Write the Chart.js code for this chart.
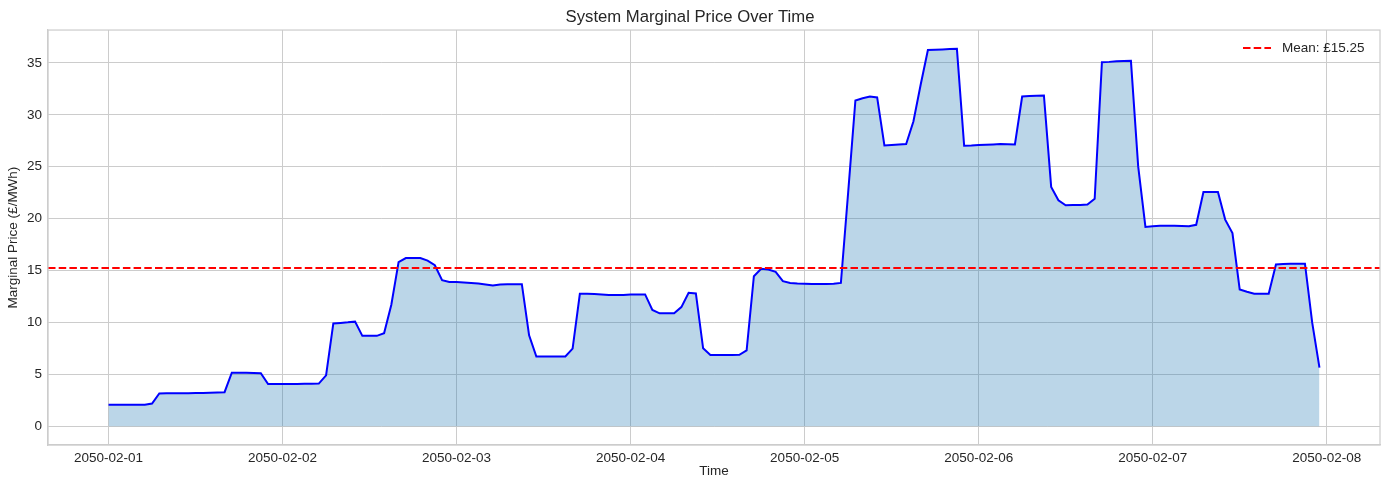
<!DOCTYPE html>
<html>
<head>
<meta charset="utf-8">
<title>System Marginal Price Over Time</title>
<script src="https://cdn.jsdelivr.net/npm/chart.js@4.4.1/dist/chart.umd.min.js"></script>
<style>
  html, body { margin: 0; padding: 0; background: #fff; }
  #wrap { width: 1390px; height: 490px; }
</style>
</head>
<body>
<div id="wrap"><canvas id="priceChart" width="1390" height="490"></canvas></div>
<script>
// hourly system marginal price, one row per day (2050-02-01 .. 2050-02-07)
const startDate = Date.UTC(2050, 1, 1);
const prices = [
    2.05, 2.05, 2.05, 2.05, 2.05, 2.07, 2.18, 3.15, 3.16, 3.17, 3.17, 3.18, 3.19, 3.2, 3.22, 3.24, 3.27, 5.15, 5.15, 5.15, 5.13, 5.1, 4.05, 4.05,
    4.05, 4.06, 4.07, 4.08, 4.09, 4.1, 4.9, 9.9, 9.95, 10.0, 10.07, 8.7, 8.7, 8.7, 8.95, 11.7, 15.8, 16.2, 16.2, 16.2, 15.95, 15.5, 14.07, 13.9,
    13.88, 13.85, 13.8, 13.75, 13.65, 13.56, 13.65, 13.67, 13.68, 13.68, 8.75, 6.7, 6.7, 6.7, 6.7, 6.72, 7.47, 12.75, 12.75, 12.73, 12.68, 12.63, 12.63, 12.63,
    12.69, 12.69, 12.69, 11.2, 10.87, 10.87, 10.87, 11.47, 12.85, 12.79, 7.5, 6.86, 6.86, 6.86, 6.86, 6.88, 7.3, 14.45, 15.16, 15.1, 14.87, 13.97, 13.8, 13.75,
    13.72, 13.7, 13.7, 13.7, 13.72, 13.8, 22.5, 31.38, 31.6, 31.76, 31.67, 27.05, 27.1, 27.15, 27.18, 29.36, 32.9, 36.25, 36.28, 36.3, 36.33, 36.35, 27.02, 27.05,
    27.1, 27.12, 27.15, 27.18, 27.16, 27.15, 31.76, 31.8, 31.83, 31.86, 23.05, 21.76, 21.28, 21.3, 21.32, 21.35, 21.9, 35.07, 35.1, 35.15, 35.18, 35.2, 25.03, 19.2,
    19.25, 19.3, 19.3, 19.3, 19.28, 19.26, 19.4, 22.56, 22.56, 22.56, 19.9, 18.6, 13.17, 12.95, 12.75, 12.75, 12.75, 15.58, 15.62, 15.65, 15.65, 15.65, 9.97, 5.64
];
const meanPrice = 15.25;
const dateTicks = ['2050-02-01', '2050-02-02', '2050-02-03', '2050-02-04', '2050-02-05', '2050-02-06', '2050-02-07', '2050-02-08'];
const priceTicks = [0, 5, 10, 15, 20, 25, 30, 35];

const TEXT = '#262626';
const GRID = '#cccccc';
const FONT = '"Liberation Sans", Arial, sans-serif';

// x in hours since start
const hours = prices.map((p, i) => i);
const lastHour = hours[hours.length - 1];
const xMin = -0.05 * lastHour, xMax = lastHour * 1.05;
const yTop = Math.max(...prices);
const yMin = -0.05 * yTop, yMax = yTop * 1.05;

function hourOf(day) {
    return (Date.parse(day + 'T00:00:00Z') - startDate) / 3600e3;
}

// matplotlib-like frame + legend in the upper right corner
const framePlugin = {
    id: 'frame',
    afterDraw(chart) {
        const { ctx, chartArea: a } = chart;
        ctx.save();
        ctx.strokeStyle = GRID;
        ctx.lineWidth = 1.2;
        ctx.strokeRect(a.left, a.top, a.right - a.left, a.bottom - a.top);

        const y = a.top + 18;
        ctx.strokeStyle = 'red';
        ctx.lineWidth = 2;
        ctx.setLineDash([7.5, 3.2]);
        ctx.beginPath();
        ctx.moveTo(a.right - 137, y);
        ctx.lineTo(a.right - 109, y);
        ctx.stroke();
        ctx.setLineDash([]);
        ctx.fillStyle = TEXT;
        ctx.font = '13.5px ' + FONT;
        ctx.textBaseline = 'middle';
        ctx.fillText('Mean: £' + meanPrice.toFixed(2), a.right - 98, y);
        ctx.restore();
    }
};

new Chart(document.getElementById('priceChart'), {
    type: 'line',
    data: {
        datasets: [{
            label: 'Mean: £' + meanPrice.toFixed(2),
            data: [{ x: xMin, y: meanPrice }, { x: xMax, y: meanPrice }],
            borderColor: 'red',
            borderWidth: 2,
            borderDash: [7.5, 3.2],
            pointRadius: 0,
            fill: false,
            order: 0
        }, {
            label: 'System Marginal Price',
            data: hours.map((h, i) => ({ x: h, y: prices[i] })),
            borderColor: '#0000ff',
            borderWidth: 2,
            backgroundColor: 'rgba(31, 119, 180, 0.3)',
            fill: 'origin',
            pointRadius: 0,
            tension: 0,
            order: 1
        }]
    },
    options: {
        responsive: false,
        animation: false,
        layout: { padding: { left: 0, right: 10, top: 0, bottom: 0 } },
        plugins: {
            legend: { display: false },
            tooltip: { enabled: false },
            title: {
                display: true,
                text: 'System Marginal Price Over Time',
                color: TEXT,
                font: { family: FONT, size: 16.7, weight: 'normal' },
                padding: { top: 7, bottom: 3 }
            }
        },
        scales: {
            x: {
                type: 'linear',
                min: xMin,
                max: xMax,
                afterFit(s) { s.height = 45; },
                afterBuildTicks(s) { s.ticks = dateTicks.map(d => ({ value: hourOf(d) })); },
                ticks: {
                    color: TEXT,
                    font: { family: FONT, size: 13.5 },
                    padding: 5,
                    maxRotation: 0,
                    autoSkip: false,
                    callback: v => new Date(startDate + v * 3600e3).toISOString().slice(0, 10)
                },
                grid: { color: GRID, lineWidth: 1, drawTicks: false },
                border: { color: GRID, width: 1.2 },
                title: {
                    display: true,
                    text: 'Time',
                    color: TEXT,
                    font: { family: FONT, size: 13.5 },
                    padding: { top: 0, bottom: 11 }
                }
            },
            y: {
                min: yMin,
                max: yMax,
                afterFit(s) { s.width = 48; },
                afterBuildTicks(s) { s.ticks = priceTicks.map(v => ({ value: v })); },
                ticks: {
                    color: TEXT,
                    font: { family: FONT, size: 13.5 },
                    padding: 6
                },
                grid: { color: GRID, lineWidth: 1, drawTicks: false },
                border: { color: GRID, width: 1.2 },
                title: {
                    display: true,
                    text: 'Marginal Price (£/MWh)',
                    color: TEXT,
                    font: { family: FONT, size: 13.5 },
                    padding: { top: 5, bottom: 0 }
                }
            }
        }
    },
    plugins: [framePlugin]
});
</script>
</body>
</html>
